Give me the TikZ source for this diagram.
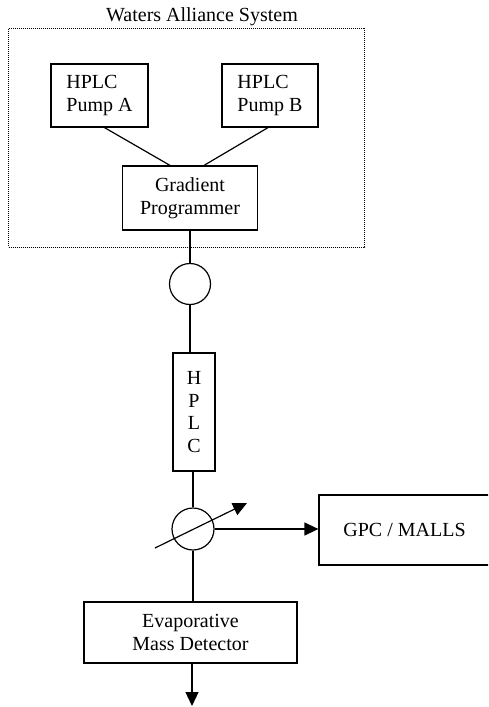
\documentclass[tikz,border=0pt]{standalone}
\usepackage{fontspec}
\setmainfont{Liberation Serif}
\usetikzlibrary{arrows.meta}
\begin{document}
\begin{tikzpicture}[x=1pt,y=-1pt,
  every node/.style={font=\fontsize{20}{22.5}\selectfont},
  box/.style={draw,line width=1.2pt,rectangle,inner sep=0pt},
  ring/.style={draw,line width=1.2pt,circle,inner sep=0pt},
  conn/.style={line width=1.2pt},
  arr/.style={line width=1.2pt,-{Triangle[length=14pt,width=13pt]}},
  sysbox/.style={draw,line width=0.8pt,dash pattern=on 0.9pt off 1.1pt,rectangle,inner sep=0pt}
]
\clip (0,0) rectangle (488,707);
\fill[white] (0,0) rectangle (488,707);

\node[sysbox,minimum width=356pt,minimum height=219pt] (sys) at (186.5,137.5) {};
\node[fill=white,inner sep=1pt] (title) at (202,17) {Waters Alliance System};

\node[box,minimum width=97pt,minimum height=63pt,align=left] (pa) at (99.5,95.5) {HPLC\\Pump A};
\node[box,minimum width=96pt,minimum height=63pt,align=left] (pb) at (270,95.5) {HPLC\\Pump B};
\node[box,minimum width=135pt,minimum height=64pt,align=center] (gp) at (190,198) {Gradient\\Programmer};
\node[ring,minimum size=41pt] (c1) at (190,284) {};
\node[box,minimum width=42pt,minimum height=118pt,align=center] (hplc) at (194,412) {H\\P\\L\\C};
\node[ring,minimum size=42pt] (c2) at (193,529) {};
\node[box,minimum width=171pt,minimum height=70pt] (gpc) at (404.5,530) {GPC / MALLS};
\node[box,minimum width=213pt,minimum height=61pt,align=center] (evap) at (190.5,632.5) {Evaporative\\Mass Detector};

\coordinate (a1) at (155,548);
\coordinate (a2) at (247,503);
\coordinate (out) at (192,706);

\draw[conn] ([xshift=5pt]pa.south) -- ([xshift=-20pt]gp.north);
\draw[conn] ([xshift=-2pt]pb.south) -- ([xshift=14pt]gp.north);
\draw[conn] (gp.south) -- (gp.south |- c1.north);
\draw[conn] (c1.south) -- (c1.south |- hplc.north);
\draw[conn] (hplc.south -| c2.north) -- (c2.north);
\draw[arr] (c2.east) -- (c2.east -| gpc.west);
\draw[conn] (c2.south) -- (c2.south |- evap.north);
\draw[arr] (evap.south -| out) -- (out);
\draw[arr] (a1) -- (a2);
\end{tikzpicture}
\end{document}
